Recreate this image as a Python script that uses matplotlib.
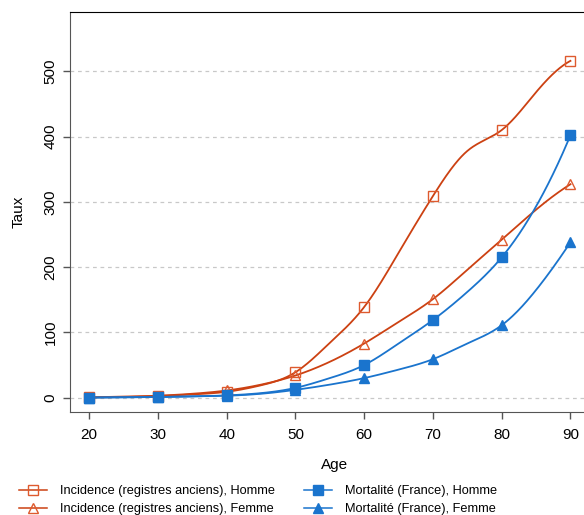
import numpy as np
import matplotlib
matplotlib.use("Agg")
import matplotlib.pyplot as plt
from matplotlib.lines import Line2D

plt.rcParams['font.family'] = ['Liberation Sans', 'DejaVu Sans']

# data (5-year ages; markers only on the decades)
ages = [20, 25, 30, 35, 40, 45, 50, 55, 60, 65, 70, 75, 80, 85, 90]
inc_homme = [0.5, 1, 2.5, 5, 9, 19, 39, 84, 139, 222, 309, 378, 410, 468, 516]
inc_femme = [0.5, 1.5, 3, 6, 11, 20, 34, 55, 83, 116, 151, 196, 242, 288, 327]
mort_homme = [0.2, 0.5, 1, 2, 3.5, 7, 15, 30, 50, 83, 119, 162, 215, 293, 402]
mort_femme = [0.2, 0.5, 1, 2, 3, 6, 12, 20, 30, 43, 59, 83, 111, 165, 238]
decades = [20, 30, 40, 50, 60, 70, 80, 90]

labels = ["Incidence (registres anciens), Homme",
          "Incidence (registres anciens), Femme",
          "Mortalité (France), Homme",
          "Mortalité (France), Femme"]

orange = '#CC4112'
orange_mk = '#DE5A2E'
blue = '#1A74CD'


def divdiff3(x, y):
    d = list(y)
    for k in range(1, 4):
        d = [(d[i + 1] - d[i]) / (x[i + k] - x[i]) for i in range(len(d) - 1)]
    return d[0]


def fmm_spline(x, y, xs):
    # cubic spline, Forsythe-Malcolm-Moler end conditions
    x = np.asarray(x, float)
    y = np.asarray(y, float)
    n = len(x)
    h = np.diff(x)
    A = np.zeros((n, n))
    b = np.zeros(n)
    for i in range(1, n - 1):
        A[i, i - 1] = h[i - 1]
        A[i, i] = 2 * (h[i - 1] + h[i])
        A[i, i + 1] = h[i]
        b[i] = 6 * ((y[i + 1] - y[i]) / h[i] - (y[i] - y[i - 1]) / h[i - 1])
    A[0, 0], A[0, 1] = -1, 1
    b[0] = 6 * h[0] * divdiff3(x[:4], y[:4])
    A[-1, -2], A[-1, -1] = -1, 1
    b[-1] = 6 * h[-1] * divdiff3(x[-4:], y[-4:])
    M = np.linalg.solve(A, b)
    out = np.empty_like(xs)
    for j, xv in enumerate(xs):
        i = min(max(np.searchsorted(x, xv) - 1, 0), n - 2)
        hi = h[i]
        a = x[i + 1] - xv
        c = xv - x[i]
        out[j] = (M[i] * a ** 3 / (6 * hi) + M[i + 1] * c ** 3 / (6 * hi)
                  + (y[i] / hi - M[i] * hi / 6) * a
                  + (y[i + 1] / hi - M[i + 1] * hi / 6) * c)
    return out


fig = plt.figure(figsize=(5.84, 5.15), dpi=100)
ax = fig.add_axes([70 / 584, (515 - 412.3) / 515, (600 - 70) / 584, 400 / 515])

ax.set_xlim(17.2, 94.3)
ax.set_ylim(-22.4, 590.4)

for v in range(0, 501, 100):
    ax.axhline(v, color='#C8C8C8', lw=0.9, ls=(0, (3, 3)), zorder=0)

xs = np.linspace(ages[0], ages[-1], 500)
series = [
    (inc_homme, orange, orange_mk, 's', 'none'),
    (inc_femme, orange, orange_mk, '^', 'none'),
    (mort_homme, blue, blue, 's', blue),
    (mort_femme, blue, blue, '^', blue),
]
handles = []
for (vals, col, mcol, mk, fc), lab in zip(series, labels):
    ax.plot(xs, fmm_spline(ages, vals, xs), color=col, lw=1.3, zorder=2)
    pts = [v for a, v in zip(ages, vals) if a in decades]
    ax.plot(decades, pts, ls='none', marker=mk, ms=7 if mk == 's' else 7.5,
            mfc=fc, mec=mcol, mew=1.0, zorder=3)
    handles.append(Line2D([], [], color=col, lw=1.1, marker=mk, ms=6.5,
                          mfc=fc, mec=mcol, mew=1.0, label=lab))

ax.set_xticks(decades)
ax.set_yticks(range(0, 501, 100))
ax.tick_params(axis='both', length=5, color='#555555', labelsize=11, width=1)
ax.tick_params(axis='x', pad=6)
ax.tick_params(axis='y', pad=4)
for t in ax.get_yticklabels():
    t.set_rotation(90)
    t.set_va('center')

ax.spines['right'].set_visible(False)
ax.spines['top'].set_color('black')
ax.spines['left'].set_color('#555555')
ax.spines['bottom'].set_color('#555555')

ax.set_xlabel('Age', fontsize=11, labelpad=12)
ax.set_ylabel('Taux', fontsize=11, labelpad=13)

fig.legend(handles=handles, ncol=2, loc='upper left',
           bbox_to_anchor=(19 / 584, 1 - 485 / 515), frameon=False,
           fontsize=9.2, handlelength=2.2, handletextpad=1.0,
           columnspacing=2.3, labelspacing=0.5, borderpad=0, borderaxespad=0)

fig.savefig('out.png', dpi=100)
